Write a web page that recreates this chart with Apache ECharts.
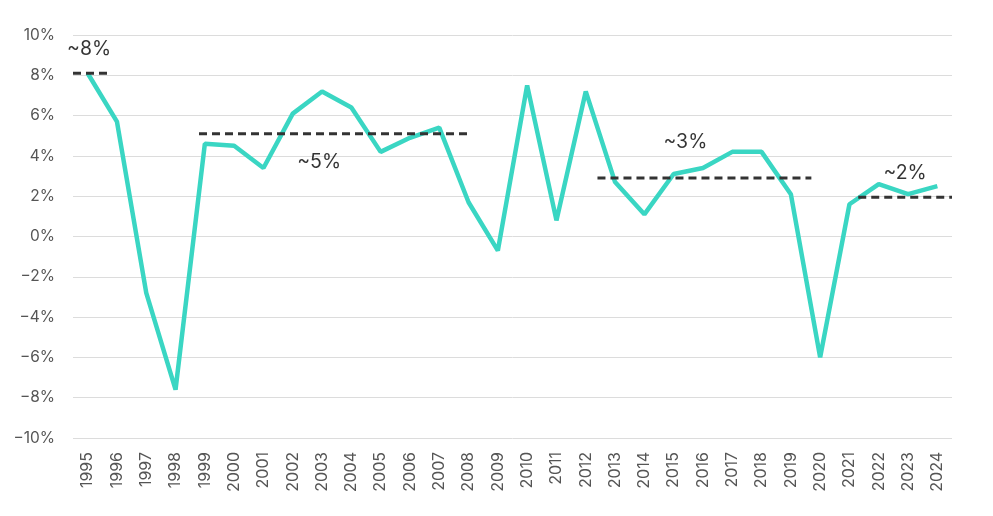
<!DOCTYPE html>
<html>
<head>
<meta charset="utf-8">
<script src="https://cdn.jsdelivr.net/npm/echarts@6/dist/echarts.min.js"></script>
<style>
  html, body { margin: 0; padding: 0; background: #fff; }
  #main { width: 993px; height: 516px; }
</style>
</head>
<body>
<div id="main"></div>
<script>

var years = [];
for (var y = 1995; y <= 2024; y++) years.push(String(y));

// annual growth, %
var growth = [8.1, 5.7, -2.8, -7.6, 4.6, 4.5, 3.4, 6.1, 7.2, 6.4,
              4.2, 4.9, 5.4, 1.7, -0.7, 7.5, 0.8, 7.2, 2.7, 1.1,
              3.1, 3.4, 4.2, 4.2, 2.1, -6.0, 1.6, 2.6, 2.1, 2.5];

// period averages: start year, end year, level
var avgFrom = [1994.5, 1998.8, 2012.4, 2021.3];
var avgTo = [1995.8, 2008.1, 2019.7, 2024.5];
var avgLevel = [8.1, 5.1, 2.9, 1.95];

// annotation text and anchor (year, value)
var noteText = ['~8%', '~5%', '~3%', '~2%'];
var noteYear = [1995.05, 2002.9, 2015.4, 2022.9];
var noteValue = [9.3, 3.7, 4.7, 3.15];

var yTicks = { min: -10, max: 10, step: 2 };

var chart = echarts.init(document.getElementById('main'));

var series = [{
    type: 'line',
    name: 'growth',
    data: growth,
    xAxisIndex: 0,
    symbol: 'none',
    lineStyle: { color: '#3ad6c3', width: 4.5 },
    z: 3
}];

for (var i = 0; i < avgLevel.length; i++) {
    series.push({
        type: 'line',
        xAxisIndex: 1,
        symbol: 'none',
        data: [[avgFrom[i], avgLevel[i]], [avgTo[i], avgLevel[i]]],
        lineStyle: { color: '#333', width: 3, type: [8, 5] },
        z: 4
    });
}

series.push({
    type: 'scatter',
    xAxisIndex: 1,
    symbolSize: 0,
    data: noteText.map(function (t, i) { return { value: [noteYear[i], noteValue[i]], name: t }; }),
    label: {
        show: true,
        position: 'inside',
        formatter: '{b}',
        color: '#000',
        fontSize: 19.5,
        fontFamily: 'Inter'
    },
    z: 5
});

var option = {
    animation: false,
    grid: { left: 73, right: 41, top: 35, bottom: 78 },
    xAxis: [{
        type: 'category',
        data: years,
        boundaryGap: true,
        axisLine: { show: false },
        axisTick: { show: false },
        axisLabel: {
            rotate: 90,
            margin: 14,
            color: '#555',
            fontSize: 16,
            fontFamily: 'Inter'
        }
    }, {
        type: 'value',
        min: 1994.5,
        max: 2024.5,
        show: false
    }],
    yAxis: {
        type: 'value',
        min: yTicks.min,
        max: yTicks.max,
        interval: yTicks.step,
        axisLine: { show: false },
        axisTick: { show: false },
        splitLine: { lineStyle: { color: '#dcdcdc', width: 1 } },
        axisLabel: {
            margin: 18,
            color: '#555',
            fontSize: 15.5,
            fontFamily: 'Inter',
            formatter: function (v) { return (v < 0 ? '\u2212' + (-v) : v) + '%'; }
        }
    },
    series: series
};

chart.setOption(option);
</script>
</body>
</html>
